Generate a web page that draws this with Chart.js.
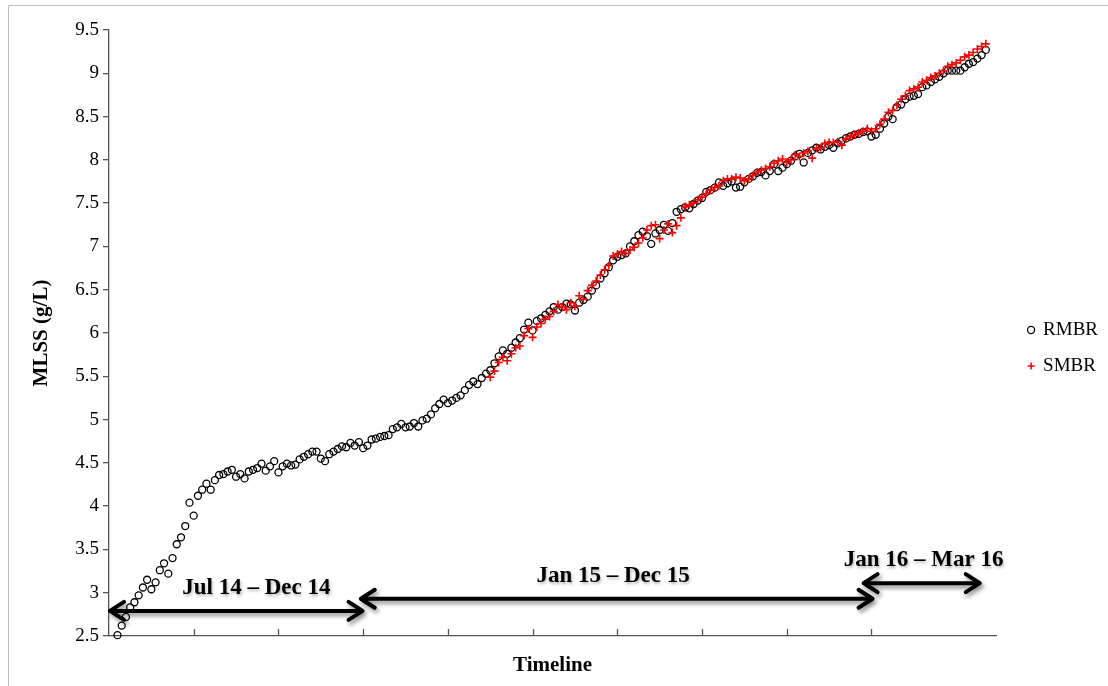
<!DOCTYPE html>
<html>
<head>
<meta charset="utf-8">
<title>MLSS timeline</title>
<script src="https://cdn.jsdelivr.net/npm/chart.js@4.4.1/dist/chart.umd.min.js"></script>
<style>
  html, body { margin: 0; padding: 0; background: #ffffff; }
  canvas { display: block; }
</style>
</head>
<body>
<canvas id="mlss" width="1108" height="686"></canvas>
<script>
// MLSS readings (g/L), one per sampling step along the timeline
const rmbrMlss = [
  2.51, 2.62, 2.72, 2.83, 2.89, 2.97, 3.06, 3.15, 3.04, 3.12,
  3.26, 3.34, 3.22, 3.40, 3.56, 3.64, 3.77, 4.04, 3.89, 4.12,
  4.19, 4.26, 4.19, 4.30, 4.36, 4.37, 4.40, 4.42, 4.34, 4.37,
  4.32, 4.40, 4.42, 4.44, 4.49, 4.41, 4.46, 4.52, 4.39, 4.46,
  4.49, 4.47, 4.48, 4.54, 4.57, 4.60, 4.63, 4.63, 4.55, 4.52,
  4.60, 4.63, 4.66, 4.69, 4.68, 4.73, 4.70, 4.74, 4.67, 4.70,
  4.77, 4.78, 4.80, 4.81, 4.82, 4.89, 4.91, 4.95, 4.91, 4.92,
  4.96, 4.92, 4.99, 5.01, 5.06, 5.13, 5.18, 5.23, 5.19, 5.22,
  5.25, 5.28, 5.34, 5.40, 5.44, 5.41, 5.48, 5.53, 5.57, 5.65,
  5.73, 5.80, 5.76, 5.83, 5.89, 5.94, 6.04, 6.12, 6.03, 6.14,
  6.17, 6.21, 6.25, 6.30, 6.27, 6.30, 6.34, 6.33, 6.26, 6.35,
  6.38, 6.42, 6.49, 6.55, 6.63, 6.69, 6.76, 6.84, 6.88, 6.90,
  6.92, 7.00, 7.06, 7.13, 7.17, 7.12, 7.03, 7.15, 7.19, 7.25,
  7.18, 7.27, 7.40, 7.43, 7.45, 7.44, 7.49, 7.53, 7.56, 7.63,
  7.65, 7.68, 7.74, 7.70, 7.73, 7.75, 7.68, 7.69, 7.74, 7.78,
  7.81, 7.85, 7.86, 7.82, 7.87, 7.95, 7.87, 7.91, 7.95, 7.99,
  8.04, 8.07, 7.97, 8.08, 8.11, 8.14, 8.12, 8.15, 8.17, 8.14,
  8.19, 8.22, 8.25, 8.27, 8.29, 8.30, 8.32, 8.33, 8.27, 8.29,
  8.36, 8.42, 8.50, 8.47, 8.61, 8.64, 8.70, 8.73, 8.74, 8.76,
  8.84, 8.86, 8.90, 8.93, 8.96, 9.00, 9.03, 9.03, 9.03, 9.03,
  9.07, 9.11, 9.13, 9.17, 9.21, 9.27
];

// SMBR was sampled from a later step onwards
const smbrFirstStep = 88;
const smbrMlss = [
  5.49, 5.56, 5.66, 5.72, 5.68, 5.76, 5.83, 5.85, 5.97, 6.05,
  5.95, 6.07, 6.11, 6.16, 6.19, 6.25, 6.33, 6.30, 6.27, 6.35,
  6.31, 6.43, 6.39, 6.49, 6.55, 6.60, 6.67, 6.73, 6.78, 6.89,
  6.91, 6.94, 6.92, 6.96, 6.99, 7.04, 7.10, 7.19, 7.24, 7.25,
  7.09, 7.19, 7.26, 7.16, 7.24, 7.33, 7.46, 7.48, 7.50, 7.54,
  7.57, 7.61, 7.65, 7.68, 7.70, 7.76, 7.78, 7.78, 7.80, 7.79,
  7.76, 7.78, 7.82, 7.86, 7.88, 7.90, 7.92, 7.96, 7.99, 8.01,
  7.97, 8.00, 8.06, 8.04, 8.08, 8.10, 8.02, 8.13, 8.14, 8.19,
  8.20, 8.20, 8.21, 8.17, 8.24, 8.27, 8.29, 8.31, 8.33, 8.36,
  8.33, 8.36, 8.41, 8.47, 8.55, 8.57, 8.63, 8.70, 8.74, 8.80,
  8.82, 8.84, 8.90, 8.92, 8.95, 8.97, 9.00, 9.03, 9.08, 9.10,
  9.12, 9.15, 9.19, 9.21, 9.24, 9.28, 9.31, 9.34
];

// timeline position of the first sampling step
const timelineOffset = 2;
const timelineEnd = 209.4;
const timelineTickStep = 20;

// operating periods shown as double arrows under the curves
const periodNames = ['Jul 14 \u2013 Dec 14', 'Jan 15 \u2013 Dec 15', 'Jan 16 \u2013 Mar 16'];
const periodFrom = [0, 59.2, 177.9];
const periodTo = [60.1, 180.5, 205.8];
const periodLevel = [2.79, 2.93, 3.11];
const periodNameAt = [34.8, 119.0, 192.3];

const rmbrPoints = rmbrMlss.map((v, i) => ({ x: timelineOffset + i, y: v }));
const smbrPoints = smbrMlss.map((v, i) => ({ x: timelineOffset + smbrFirstStep + i, y: v }));

const SERIF = '"Liberation Serif", "Times New Roman", serif';
const AXIS_GREY = '#555555';

// white page with the thin grey chart frame
const framePlugin = {
  id: 'frame',
  beforeDraw(chart) {
    const ctx = chart.ctx;
    ctx.save();
    ctx.fillStyle = '#ffffff';
    ctx.fillRect(0, 0, chart.width, chart.height);
    ctx.strokeStyle = '#bdbdbd';
    ctx.lineWidth = 1;
    ctx.beginPath();
    ctx.moveTo(8.5, chart.height);
    ctx.lineTo(8.5, 5.5);
    ctx.lineTo(chart.width, 5.5);
    ctx.stroke();
    ctx.restore();
  }
};

// short tick marks pointing up into the plot from the timeline axis
const innerTicksPlugin = {
  id: 'innerTicks',
  afterDraw(chart) {
    const xs = chart.scales.x;
    const ctx = chart.ctx;
    const bottom = chart.chartArea.bottom;
    ctx.save();
    ctx.strokeStyle = AXIS_GREY;
    ctx.lineWidth = 1.3;
    ctx.beginPath();
    xs.ticks.forEach(t => {
      if (t.value > 0 && t.value % timelineTickStep === 0) {
        const px = Math.round(xs.getPixelForValue(t.value)) + 0.5;
        ctx.moveTo(px, bottom);
        ctx.lineTo(px, bottom - 7);
      }
    });
    ctx.stroke();
    ctx.restore();
  }
};

// double-headed period arrows with their captions
const periodsPlugin = {
  id: 'periods',
  afterDraw(chart) {
    const xs = chart.scales.x, ys = chart.scales.y;
    const ctx = chart.ctx;
    const head = 15, half = 9;
    ctx.save();
    periodNames.forEach((name, i) => {
      const x1 = xs.getPixelForValue(periodFrom[i]);
      const x2 = xs.getPixelForValue(periodTo[i]);
      const y = ys.getPixelForValue(periodLevel[i]);
      ctx.shadowColor = 'rgba(0,0,0,0.45)';
      ctx.shadowBlur = 4;
      ctx.shadowOffsetX = 2;
      ctx.shadowOffsetY = 3;
      ctx.strokeStyle = '#000000';
      ctx.lineWidth = 4;
      ctx.lineCap = 'round';
      ctx.lineJoin = 'round';
      ctx.beginPath();
      ctx.moveTo(x1 + 2, y);
      ctx.lineTo(x2 - 2, y);
      ctx.moveTo(x1 + head, y - half);
      ctx.lineTo(x1 + 1, y);
      ctx.lineTo(x1 + head, y + half);
      ctx.moveTo(x2 - head, y - half);
      ctx.lineTo(x2 - 1, y);
      ctx.lineTo(x2 - head, y + half);
      ctx.stroke();

      ctx.shadowColor = 'rgba(0,0,0,0.3)';
      ctx.shadowBlur = 3;
      ctx.shadowOffsetX = 1;
      ctx.shadowOffsetY = 2;
      ctx.fillStyle = '#000000';
      ctx.font = 'bold 23px ' + SERIF;
      ctx.textAlign = 'center';
      ctx.textBaseline = 'middle';
      ctx.fillText(name, xs.getPixelForValue(periodNameAt[i]), y - 23);
    });
    ctx.restore();
  }
};

new Chart(document.getElementById('mlss'), {
  type: 'scatter',
  data: {
    datasets: [
      {
        label: 'RMBR',
        data: rmbrPoints,
        yAxisID: 'y',
        pointStyle: 'circle',
        radius: 3.5,
        borderWidth: 1.3,
        borderColor: '#000000',
        backgroundColor: 'rgba(255,255,255,0)',
        clip: false,
        order: 1
      },
      {
        label: 'SMBR',
        data: smbrPoints,
        yAxisID: 'y',
        pointStyle: 'cross',
        radius: 4,
        borderWidth: 1.6,
        borderColor: '#ff0000',
        backgroundColor: '#ff0000',
        clip: false,
        order: 0
      }
    ]
  },
  options: {
    responsive: false,
    animation: false,
    devicePixelRatio: 1,
    layout: { padding: { left: 8, top: 30, right: 0, bottom: 20 } },
    plugins: {
      tooltip: { enabled: false },
      legend: {
        position: 'right',
        align: 'center',
        labels: {
          usePointStyle: true,
          boxWidth: 5,
          boxHeight: 5,
          padding: 17,
          color: '#000000',
          font: { family: SERIF, size: 19 },
          sort: (a, b) => a.datasetIndex - b.datasetIndex
        }
      }
    },
    scales: {
      x: {
        type: 'linear',
        min: 0,
        max: timelineEnd,
        grid: { display: false },
        border: { display: true, color: AXIS_GREY, width: 1.3 },
        ticks: { display: false, stepSize: timelineTickStep },
        title: {
          display: true,
          text: 'Timeline',
          color: '#000000',
          font: { family: SERIF, size: 21, weight: 'bold' },
          padding: { top: 0, bottom: -12 }
        },
        afterFit(s) { s.height = 30; }
      },
      y: {
        type: 'linear',
        min: 2.5,
        max: 9.5,
        ticks: {
          stepSize: 0.5,
          color: '#000000',
          padding: 4,
          font: { family: SERIF, size: 19 },
          callback: v => String(Number(v.toFixed(2)))
        },
        grid: { drawOnChartArea: false, drawTicks: true, tickLength: 6, color: AXIS_GREY, lineWidth: 1.3 },
        border: { display: true, color: AXIS_GREY, width: 1.3 },
        title: {
          display: true,
          text: 'MLSS (g/L)',
          color: '#000000',
          font: { family: SERIF, size: 21, weight: 'bold' },
          padding: { top: 21, bottom: 0 }
        },
        afterFit(s) { s.width = 101; }
      },
      gap: {
        type: 'linear',
        position: 'right',
        display: true,
        grid: { display: false },
        border: { display: false },
        ticks: { display: false },
        afterFit(s) { s.width = Math.max(0, s.chart.width - s.chart.legend.width - 996); }
      }
    }
  },
  plugins: [framePlugin, innerTicksPlugin, periodsPlugin]
});
</script>
</body>
</html>
